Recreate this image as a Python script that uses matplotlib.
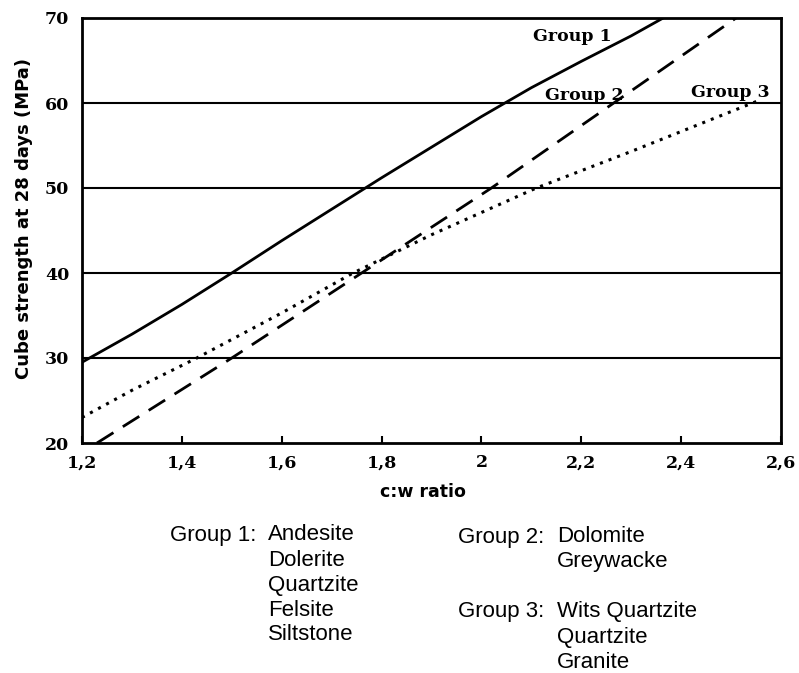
import matplotlib
matplotlib.use("Agg")
import matplotlib.pyplot as plt
from matplotlib.ticker import FixedLocator, FixedFormatter

# Data
g1_x = [1.20, 1.30, 1.40, 1.50, 1.60, 1.70, 1.80, 1.90, 2.00, 2.10, 2.20, 2.30, 2.364]
g1_y = [29.5, 32.8, 36.3, 40.0, 43.8, 47.5, 51.2, 54.8, 58.4, 61.8, 64.9, 67.9, 70.0]

g2_x = [1.23, 1.50, 1.76, 2.02, 2.265, 2.51]
g2_y = [20.0, 30.0, 40.0, 50.0, 60.0, 70.0]

g3_x = [1.20, 1.30, 1.43, 1.60, 1.743, 1.90, 2.11, 2.30, 2.56]
g3_y = [23.0, 26.2, 30.0, 35.3, 40.0, 44.5, 50.0, 54.3, 60.4]

x_ticks = [1.2, 1.4, 1.6, 1.8, 2.0, 2.2, 2.4, 2.6]
x_tick_labels = ["1,2", "1,4", "1,6", "1,8", "2", "2,2", "2,4", "2,6"]
y_ticks = [20, 30, 40, 50, 60, 70]
y_tick_labels = ["20", "30", "40", "50", "60", "70"]
grid_levels = [30, 40, 50, 60]

group1_rocks = ["Andesite", "Dolerite", "Quartzite", "Felsite", "Siltstone"]
group2_rocks = ["Dolomite", "Greywacke"]
group3_rocks = ["Wits Quartzite", "Quartzite", "Granite"]

W, H = 799, 673
fig = plt.figure(figsize=(W / 100, H / 100), dpi=100)
ax = fig.add_axes([82 / W, 1 - 443 / H, (781 - 82) / W, (443 - 18) / H])

ax.set_xlim(1.2, 2.6)
ax.set_ylim(20, 70)

for lv in grid_levels:
    ax.axhline(lv, color="black", lw=1.5, zorder=1)

ax.plot(g1_x, g1_y, color="black", lw=2.0, solid_capstyle="butt", zorder=3)
ax.plot(g2_x, g2_y, color="black", lw=2.0, dashes=(7, 4), zorder=3)
ax.plot(g3_x, g3_y, color="black", lw=2.2, dashes=(1, 2), zorder=3)

for s in ax.spines.values():
    s.set_linewidth(2.0)
    s.set_color("black")

serif_b = dict(family="DejaVu Serif", weight="bold")
ax.xaxis.set_major_locator(FixedLocator(x_ticks))
ax.xaxis.set_major_formatter(FixedFormatter(x_tick_labels))
ax.yaxis.set_major_locator(FixedLocator(y_ticks))
ax.yaxis.set_major_formatter(FixedFormatter(y_tick_labels))
ax.tick_params(axis="x", direction="in", length=5, width=1.5, pad=8)
ax.tick_params(axis="y", length=0, pad=9)
for lab in ax.get_xticklabels() + ax.get_yticklabels():
    lab.set_fontfamily("DejaVu Serif")
    lab.set_fontweight("bold")
    lab.set_fontsize(12.5)

ax.text(2.104, 67.8, "Group 1", fontsize=12.5, ha="left", va="center", **serif_b)
ax.text(2.128, 60.9, "Group 2", fontsize=12.5, ha="left", va="center", **serif_b)
ax.text(2.420, 61.2, "Group 3", fontsize=12.5, ha="left", va="center", **serif_b)

fig.text(24 / W, 1 - 219 / H, "Cube strength at 28 days (MPa)", rotation=90,
         ha="center", va="center", fontsize=13, fontweight="bold", family="DejaVu Sans")
fig.text(423 / W, 1 - 492 / H, "c:w ratio", ha="center", va="center",
         fontsize=12.5, fontweight="bold", family="DejaVu Sans")

fs = 16
fam = "Liberation Sans"
line_h = 25
fig.text(170 / W, 1 - 535 / H, "Group 1:", ha="left", va="center", fontsize=fs, family=fam)
for i, r in enumerate(group1_rocks):
    fig.text(268 / W, 1 - (535 + i * line_h) / H, r, ha="left", va="center", fontsize=fs, family=fam)
fig.text(458 / W, 1 - 537 / H, "Group 2:", ha="left", va="center", fontsize=fs, family=fam)
for i, r in enumerate(group2_rocks):
    fig.text(557 / W, 1 - (537 + i * line_h) / H, r, ha="left", va="center", fontsize=fs, family=fam)
fig.text(458 / W, 1 - 612 / H, "Group 3:", ha="left", va="center", fontsize=fs, family=fam)
for i, r in enumerate(group3_rocks):
    fig.text(557 / W, 1 - (612 + i * line_h) / H, r, ha="left", va="center", fontsize=fs, family=fam)

fig.savefig("out.png", dpi=100)
